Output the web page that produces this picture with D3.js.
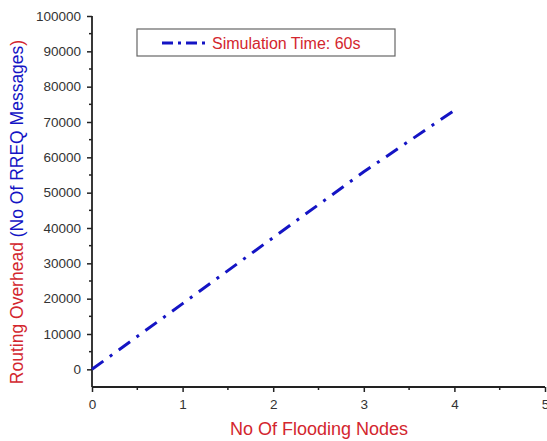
<!DOCTYPE html>
<html>
<head>
<meta charset="utf-8">
<script src="https://cdn.jsdelivr.net/npm/d3@7"></script>
<style>
  body { margin: 0; background: #fff; }
  text { font-family: Arial, "Liberation Sans", sans-serif; }
</style>
</head>
<body>
<svg width="547" height="441"></svg>
<script>
// data
var floodingNodes = [0, 1, 2, 3, 4];
var rreqMessages = [0, 18600, 37300, 55900, 73300];
var seriesName = "Simulation Time: 60s";
var xTicks = [0, 1, 2, 3, 4, 5];
var yTicks = [0, 10000, 20000, 30000, 40000, 50000, 60000, 70000, 80000, 90000, 100000];

var svg = d3.select("svg");
var red = "#d3262e", blue = "#1414c4", ink = "#222";

var x = d3.scaleLinear().domain([0, 5]).range([92, 545]);
var y = d3.scaleLinear().domain([-5000, 100000]).range([387, 16]);

// minor ticks
var xMinor = d3.range(0.5, 5, 1);
var yMinor = d3.range(-5000, 100000, 10000);

var gx = svg.append("g").attr("transform", "translate(0," + y(-5000) + ")");
gx.call(d3.axisBottom(x).tickValues(xTicks).tickFormat(d3.format("d")).tickSize(5).tickPadding(7));
gx.selectAll(".minor").data(xMinor).enter().append("line")
    .attr("x1", function (d) { return x(d); }).attr("x2", function (d) { return x(d); })
    .attr("y1", 0).attr("y2", 3).attr("stroke", ink).attr("stroke-width", 1.5);

var gy = svg.append("g").attr("transform", "translate(" + x(0) + ",0)");
gy.call(d3.axisLeft(y).tickValues(yTicks).tickFormat(d3.format("d")).tickSize(5).tickPadding(6));
gy.selectAll(".minor").data(yMinor.filter(function (d) { return d > -5000; })).enter().append("line")
    .attr("y1", function (d) { return y(d); }).attr("y2", function (d) { return y(d); })
    .attr("x1", 0).attr("x2", -3).attr("stroke", ink).attr("stroke-width", 1.5);

gx.select(".domain").attr("d", "M92,0H545");
gy.select(".domain").attr("d", "M0,387V16");
svg.selectAll(".domain").attr("stroke", ink).attr("stroke-width", 1.8);
svg.selectAll(".tick line").attr("stroke", ink).attr("stroke-width", 1.5);
svg.selectAll(".tick text").attr("fill", "#333").style("font-size", "13.5px");

// series
var pts = floodingNodes.map(function (d, i) { return [d, rreqMessages[i]]; });
var line = d3.line().x(function (d) { return x(d[0]); }).y(function (d) { return y(d[1]); });
svg.append("path").datum(pts)
    .attr("d", line)
    .attr("fill", "none")
    .attr("stroke", blue)
    .attr("stroke-width", 3)
    .attr("stroke-dasharray", "14,8,3,8");

// legend
var lg = svg.append("g");
lg.append("rect").attr("x", 137).attr("y", 29).attr("width", 258).attr("height", 27)
    .attr("fill", "#fff").attr("stroke", "#666").attr("stroke-width", 1.2);
lg.append("path").attr("d", "M162,43H205").attr("stroke", blue).attr("stroke-width", 3)
    .attr("stroke-dasharray", "11,5,3,5").attr("fill", "none");
lg.append("text").attr("x", 212).attr("y", 49).attr("fill", red)
    .style("font-size", "16px").text(seriesName);

// axis titles
svg.append("text").attr("x", 319).attr("y", 435).attr("text-anchor", "middle")
    .attr("fill", red).style("font-size", "18px").text("No Of Flooding Nodes");

var yt = svg.append("text").attr("transform", "translate(23,212) rotate(-90)")
    .attr("text-anchor", "middle").style("font-size", "17.5px");
yt.append("tspan").attr("fill", red).text("Routing Overhead ");
yt.append("tspan").attr("fill", blue).text("(No Of RREQ Messages");
yt.append("tspan").attr("fill", red).text(")");
</script>
</body>
</html>
